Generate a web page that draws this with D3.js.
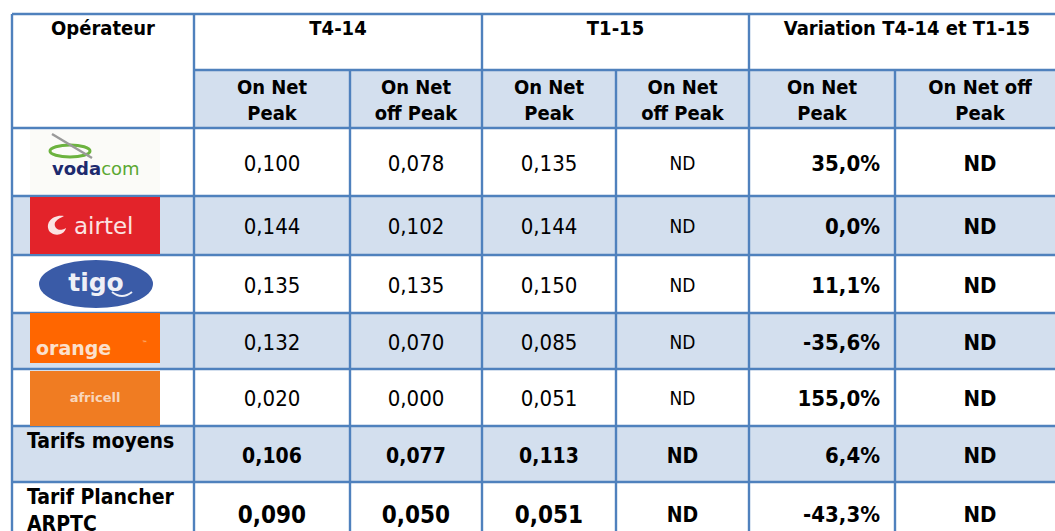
<!DOCTYPE html>
<html>
<head>
<meta charset="utf-8">
<script src="https://cdn.jsdelivr.net/npm/d3@7"></script>
<style>
  body { margin: 0; background: #fff; }
  svg text { font-family: "DejaVu Sans Condensed", "DejaVu Sans", sans-serif; fill: #000; }
</style>
</head>
<body>
<div id="table"></div>
<script>
// table data
var periods = ["T4-14", "T1-15", "Variation T4-14 et T1-15"];
var subHeaders = [["On Net", "Peak"], ["On Net", "off Peak"], ["On Net", "Peak"], ["On Net", "off Peak"], ["On Net", "Peak"], ["On Net off", "Peak"]];
var operators = ["vodacom", "airtel", "tigo", "orange", "africell"];
var t4Peak = [0.100, 0.144, 0.135, 0.132, 0.020];
var t4OffPeak = [0.078, 0.102, 0.135, 0.070, 0.000];
var t1Peak = [0.135, 0.144, 0.150, 0.085, 0.051];
var t1OffPeak = [null, null, null, null, null];
var varPeak = [35.0, 0.0, 11.1, -35.6, 155.0];
var varOffPeak = [null, null, null, null, null];

var summaryLabels = [["Tarifs moyens"], ["Tarif Plancher", "ARPTC"]];
var sumT4Peak = [0.106, 0.090];
var sumT4OffPeak = [0.077, 0.050];
var sumT1Peak = [0.113, 0.051];
var sumT1OffPeak = [null, null];
var sumVarPeak = [6.4, -43.3];
var sumVarOffPeak = [null, null];

// french number format
var fr = d3.formatLocale({decimal: ",", thousands: " ", grouping: [3], currency: ["", " €"], minus: "-"});
var f3 = function(d) { return d == null ? "ND" : fr.format(".3f")(d); };
var fp = function(d) { return d == null ? "ND" : fr.format(".1f")(d) + "%"; };

// layout: column and row edges
var colEdges = [12, 194, 350, 482, 616, 749, 895, 1065];
var rowEdges = [14, 70, 128, 196, 255, 313, 369, 426, 482, 545];
var blue = "#d3dfee", line = "#4f81bd";

var x = d3.scaleOrdinal().domain(d3.range(8)).range(colEdges);
var y = d3.scaleOrdinal().domain(d3.range(10)).range(rowEdges);
var cx = function(c) { return (x(c) + x(c + 1)) / 2; };
var cy = function(r) { return (y(r) + y(r + 1)) / 2; };

var svg = d3.select("#table").append("svg")
  .attr("width", 1055)
  .attr("height", 531);

// data rows: one object per row
var rows = operators.map(function(op, i) {
  return {logo: op, vals: [t4Peak[i], t4OffPeak[i], t1Peak[i], t1OffPeak[i], varPeak[i], varOffPeak[i]], kind: "op"};
});
summaryLabels.forEach(function(lab, i) {
  rows.push({label: lab, vals: [sumT4Peak[i], sumT4OffPeak[i], sumT1Peak[i], sumT1OffPeak[i], sumVarPeak[i], sumVarOffPeak[i]], kind: i == 0 ? "avg" : "floor"});
});

// backgrounds
svg.append("rect")
  .attr("x", x(1)).attr("y", y(1))
  .attr("width", x(7) - x(1)).attr("height", y(2) - y(1))
  .attr("fill", blue);

svg.selectAll("rect.row")
  .data(rows)
  .enter()
  .append("rect")
  .attr("class", "row")
  .attr("x", x(0))
  .attr("y", function(d, i) { return y(i + 2); })
  .attr("width", x(7) - x(0))
  .attr("height", function(d, i) { return y(i + 3) - y(i + 2); })
  .attr("fill", function(d, i) { return i % 2 == 1 ? blue : "#fff"; });

// grid lines
var grid = svg.append("g").attr("stroke", line).attr("stroke-width", 2.4);
// horizontal
grid.append("line").attr("x1", x(0)).attr("x2", x(7)).attr("y1", y(0)).attr("y2", y(0));
grid.append("line").attr("x1", x(1)).attr("x2", x(7)).attr("y1", y(1)).attr("y2", y(1));
d3.range(2, 9).forEach(function(r) {
  grid.append("line").attr("x1", x(0)).attr("x2", x(7)).attr("y1", y(r)).attr("y2", y(r));
});
// vertical
[0, 1, 3, 5, 7].forEach(function(c) {
  grid.append("line").attr("x1", x(c)).attr("x2", x(c)).attr("y1", y(0)).attr("y2", y(9));
});
[2, 4, 6].forEach(function(c) {
  grid.append("line").attr("x1", x(c)).attr("x2", x(c)).attr("y1", y(1)).attr("y2", y(9));
});

// headers
svg.append("text")
  .attr("x", cx(0)).attr("y", 35)
  .attr("text-anchor", "middle")
  .style("font-weight", "bold").style("font-size", "20px")
  .text("Opérateur");

svg.selectAll("text.period")
  .data(periods)
  .enter()
  .append("text")
  .attr("class", "period")
  .attr("x", function(d, i) { return (x(1 + 2 * i) + x(3 + 2 * i)) / 2; })
  .attr("y", 35)
  .attr("text-anchor", "middle")
  .style("font-weight", "bold").style("font-size", "20px")
  .text(function(d) { return d; });

svg.selectAll("g.sub")
  .data(subHeaders)
  .enter()
  .append("g")
  .attr("class", "sub")
  .each(function(d, i) {
    d3.select(this).selectAll("text")
      .data(d)
      .enter()
      .append("text")
      .attr("x", cx(i + 1))
      .attr("y", function(t, j) { return 94 + j * 26; })
      .attr("text-anchor", "middle")
      .style("font-weight", "bold").style("font-size", "20px")
      .text(function(t) { return t; });
  });

// values
rows.forEach(function(row, i) {
  var r = i + 2;
  row.vals.forEach(function(v, j) {
    var c = j + 1;
    var txt = j >= 4 ? (j == 4 ? fp(v) : fp(v)) : f3(v);
    var bold = row.kind != "op" || j >= 4;
    var size;
    if (j == 3) size = v == null ? (row.kind == "op" ? 19 : 21) : 22;
    else if (j >= 4) size = 22;
    else size = row.kind == "op" ? 22 : (row.kind == "avg" ? 21 : 24);
    svg.append("text")
      .attr("x", j == 4 ? x(c + 1) - 15 : cx(c))
      .attr("y", cy(r) + size * 0.36 + 1)
      .attr("text-anchor", j == 4 ? "end" : "middle")
      .style("font-weight", bold ? "bold" : "normal")
      .style("font-size", size + "px")
      .text(txt);
  });
  if (row.label) {
    svg.append("g").selectAll("text")
      .data(row.label)
      .enter()
      .append("text")
      .attr("x", 27)
      .attr("y", function(t, k) { return y(r) + 22 + k * 27; })
      .style("font-weight", "bold").style("font-size", "21px")
      .text(function(t) { return t; });
  }
});

// operator logos
var logos = svg.append("g");
function logoBox(i) { return {x: 30, y: y(i + 2) + 2, w: 130, h: y(i + 3) - y(i + 2) - 4}; }

// vodacom
var b = logoBox(0);
logos.append("rect").attr("x", b.x).attr("y", b.y).attr("width", b.w).attr("height", b.h).attr("fill", "#fbfbf8");
logos.append("ellipse").attr("cx", 70).attr("cy", 151).attr("rx", 20).attr("ry", 6)
  .attr("fill", "none").attr("stroke", "#6cb33f").attr("stroke-width", 3);
logos.append("line").attr("x1", 52).attr("y1", 134).attr("x2", 92).attr("y2", 158)
  .attr("stroke", "#9a9a9a").attr("stroke-width", 2.5);
var vt = logos.append("text").attr("x", 52).attr("y", 175)
  .style("font-family", "'DejaVu Sans'").style("font-size", "18px").style("font-weight", "bold");
vt.append("tspan").attr("fill", "#1d2a6e").style("fill", "#1d2a6e").text("voda");
vt.append("tspan").style("fill", "#5aa832").style("font-weight", "normal").text("com");

// airtel
b = logoBox(1);
logos.append("rect").attr("x", b.x).attr("y", b.y - 1).attr("width", b.w).attr("height", b.h + 2).attr("fill", "#e3232a");
logos.append("path")
  .attr("d", "M50,232 C44,224 52,214 64,216 C58,219 52,222 56,228 C60,232 66,228 66,228 C64,236 54,236 50,232 Z")
  .attr("fill", "#fbe3e3");
logos.append("text").attr("x", 74).attr("y", 234)
  .style("fill", "#fbe3e3").style("font-family", "'DejaVu Sans'").style("font-size", "23px")
  .text("airtel");

// tigo
b = logoBox(2);
logos.append("ellipse").attr("cx", 96).attr("cy", 284).attr("rx", 57).attr("ry", 24).attr("fill", "#3a5ba7");
logos.append("text").attr("x", 96).attr("y", 291).attr("text-anchor", "middle")
  .style("fill", "#eef0f7").style("font-family", "'DejaVu Sans'").style("font-weight", "bold").style("font-size", "25px")
  .text("tigo");
logos.append("path").attr("d", "M112,292 Q122,300 132,292").attr("fill", "none").attr("stroke", "#eef0f7").attr("stroke-width", 2);

// orange
b = logoBox(3);
logos.append("rect").attr("x", b.x).attr("y", b.y - 2).attr("width", b.w).attr("height", 50).attr("fill", "#ff6600");
logos.append("text").attr("x", 36).attr("y", 355)
  .style("fill", "#fbe0cc").style("font-family", "'DejaVu Sans'").style("font-weight", "bold").style("font-size", "19px")
  .text("orange");
logos.append("text").attr("x", 142).attr("y", 345)
  .style("fill", "#fbe0cc").style("font-size", "6px").text("™");

// africell
b = logoBox(4);
logos.append("rect").attr("x", b.x).attr("y", b.y).attr("width", b.w).attr("height", b.h + 2).attr("fill", "#f07c22");
logos.append("text").attr("x", 95).attr("y", 402).attr("text-anchor", "middle")
  .style("fill", "#f9d6bb").style("font-family", "'DejaVu Sans'").style("font-weight", "bold").style("font-size", "13px")
  .text("africell");
</script>
</body>
</html>
